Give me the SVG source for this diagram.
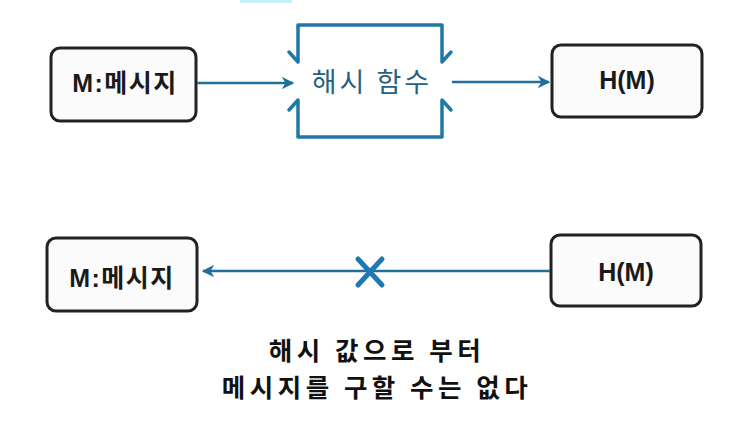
<svg xmlns="http://www.w3.org/2000/svg" width="750" height="434" viewBox="0 0 750 434">
<defs>
<style>
.box{fill:#fbfbfb;stroke:#222;stroke-width:3}
.lbl{font-family:"Liberation Sans","Noto Sans CJK KR",sans-serif;font-weight:bold;font-size:25px;fill:#1a1a1a;text-anchor:middle}
.conn{stroke:#1f6f9a;stroke-width:2.5;fill:none}
.brk{stroke:#1f78a8;stroke-width:3.5;fill:none;stroke-linecap:round;stroke-linejoin:round}
.cap{font-family:"Noto Sans CJK KR",sans-serif;font-weight:bold;font-size:25.5px;fill:#111;text-anchor:middle;letter-spacing:4.5px}
</style>
<marker id="ah" viewBox="0 0 10 10" refX="9" refY="5" markerWidth="5" markerHeight="5" orient="auto-start-reverse">
<path d="M0,0 L10,5 L0,10 L3,5 Z" fill="#1f6f9a"/>
</marker>
</defs>
<rect width="750" height="434" fill="#fff"/>
<rect x="240" y="0" width="52" height="3" fill="#c4eef8"/>
<g id="msg1">
<rect class="box" x="51" y="48" width="145" height="73" rx="9"/>
<text class="lbl" x="125" y="92" font-family="Noto Sans CJK KR" letter-spacing="1.5">M:메시지</text>
</g>
<g id="hash">
<path class="brk" d="M289,52 L298,62 L298,25 L442,25 L442,62 L451,52"/>
<path class="brk" d="M289,110 L298,100 L298,137 L442,137 L442,100 L451,110"/>
<text x="372" y="92" font-family="Noto Sans CJK KR,sans-serif" font-size="27" fill="#24607f" text-anchor="middle" letter-spacing="3">해시 함수</text>
</g>
<g id="hm1">
<rect class="box" x="552" y="45" width="150" height="72" rx="9"/>
<text class="lbl" x="627" y="89">H(M)</text>
</g>
<g id="msg2">
<rect class="box" x="47" y="238" width="150" height="73" rx="9"/>
<text class="lbl" x="122" y="287" font-family="Noto Sans CJK KR" letter-spacing="1.5">M:메시지</text>
</g>
<g id="hm2">
<rect class="box" x="551" y="235" width="150" height="71" rx="9"/>
<text class="lbl" x="626" y="281">H(M)</text>
</g>
<g id="connectors">
<line class="conn" x1="197" y1="83" x2="293" y2="83" marker-end="url(#ah)"/>
<line class="conn" x1="452" y1="82" x2="549" y2="82" marker-end="url(#ah)"/>
<line class="conn" x1="550" y1="271" x2="203" y2="271" marker-end="url(#ah)"/>
<path d="M358,259 L382,285 M382,259 L358,285" stroke="#1f78b0" stroke-width="5" stroke-linecap="round"/>
</g>
<g id="caption">
<text class="cap" x="377" y="360">해시 값으로 부터</text>
<text class="cap" x="377" y="397">메시지를 구할 수는 없다</text>
</g>
</svg>
